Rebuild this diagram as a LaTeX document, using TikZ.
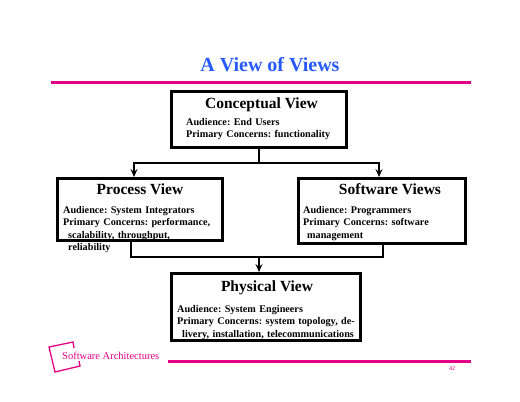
\documentclass[tikz,border=0pt]{standalone}
\usepackage{fontspec}
\setmainfont{Liberation Serif}
\usepackage{xcolor}
\usepackage{tikz}
\usetikzlibrary{arrows.meta}
\usetikzlibrary{calc}
\usetikzlibrary{positioning}
\definecolor{slidepink}{RGB}{228,0,132}
\definecolor{slideblue}{RGB}{40,90,255}
\tikzset{>=latex}
\frenchspacing

\begin{document}
\begin{tikzpicture}[
        x=1pt, y=-1pt,
        viewbox/.style={draw, line width=3pt, inner sep=0pt},
        viewtitle/.style={font=\fontsize{15.5}{18}\selectfont\bfseries, inner sep=0pt, anchor=base},
        viewtext/.style={font=\fontsize{10.2}{12.4}\selectfont\bfseries, text width=200pt, align=left, inner sep=0pt, anchor=base west},
        link/.style={line width=1.2pt},
        flow/.style={line width=1.2pt, -{Stealth[length=8pt, width=7pt, inset=3pt]}},
        rule/.style={slidepink, line width=3pt}
    ]
    \useasboundingbox (0,0) rectangle (520,402);

    %=== Slide heading ===%
    \node[font=\fontsize{20}{24}\selectfont\bfseries, text=slideblue, anchor=base, inner sep=0pt] (heading) at (270,71) {A View of Views};
    \draw[rule] (51,82) -- (471,82);

    %=== View Macro ===%
    \newcommand{\view}[8]{
        \node[viewbox, minimum width=#3, minimum height=#4] (#1) at #2 {};
        \node[viewtitle] (#1-title) at #6 {#5};
        \node[viewtext] (#1-text) at #7 {#8};
    }

    %=== VIEWS ===%
    \view{concept}{(259,119.5)}{175pt}{56pt}{Conceptual View}{(261.5,108.3)}{(186,125.3)}{
    Audience: End Users\\ Primary Concerns: functionality};

    \view{process}{(140,209.5)}{165pt}{62pt}{Process View}{(140,194.3)}{(63,213.3)}{
    Audience: System Integrators\\ Primary Concerns: performance,\\ \hspace*{5pt}scalability, throughput,\\ \hspace*{5pt}reliability};

    \view{software}{(382,211)}{167pt}{65pt}{Software Views}{(390,194.3)}{(303,213.3)}{
    Audience: Programmers\\ Primary Concerns: software\\ \hspace*{4pt}management};

    \view{physical}{(266,307)}{189pt}{67pt}{Physical View}{(267,291)}{(177,312.3)}{
    Audience: System Engineers\\ Primary Concerns: system topology, de-\\ \hspace*{5pt}livery, installation, telecommunications};

    %=== Connectors ===%
    \draw[link] (concept.south) -- ++(0,14) coordinate (split);
    \draw[flow] (split) -| ([xshift=-6pt]process.north);
    \draw[flow] (split) -| ([xshift=-3pt]software.north);

    \coordinate (merge) at (259,257);
    \draw[link] ([xshift=-9pt]process.south) |- (merge) -| ([xshift=1pt]software.south);
    \draw[flow] (merge) -- (merge |- physical.north);

    %=== Footer ===%
    \draw[slidepink, line width=1.3pt] (74,348) -- (73,342) -- (49,347) -- (55,372) -- (80,366) -- (79,361);
    \node[font=\fontsize{10.5}{12}\selectfont, text=slidepink, anchor=base west, inner sep=0pt] (footer) at (62,359.3) {Software Architectures};
    \draw[rule] (168,361) -- (471,361);
    \node[font=\fontsize{6}{7}\selectfont, text=slidepink, inner sep=0pt] (pagenum) at (452,369) {42};
\end{tikzpicture}
\end{document}
